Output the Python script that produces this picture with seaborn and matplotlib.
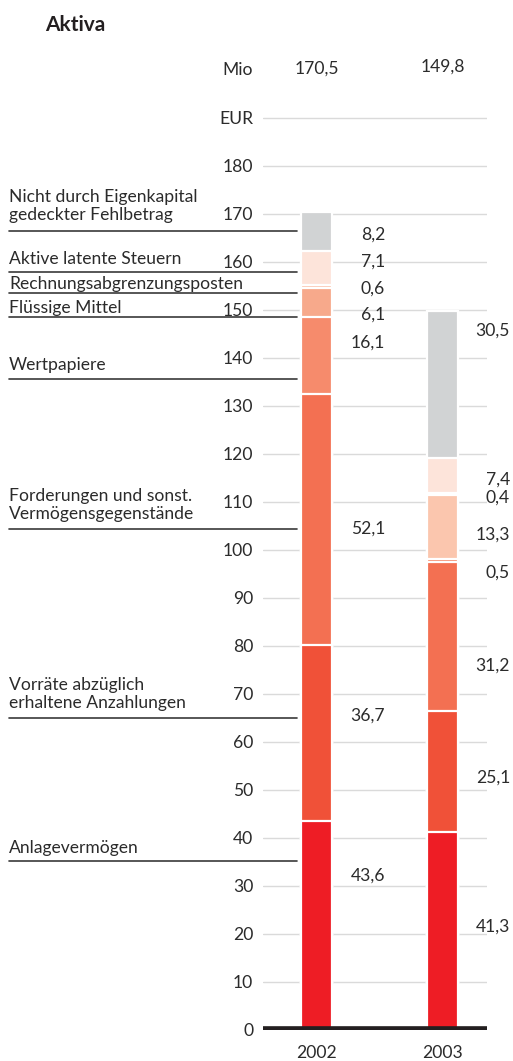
import numpy as np
import pandas as pd
import seaborn as sns
import matplotlib.pyplot as plt

# Aktiva, Mio EUR
years = ["2002", "2003"]
categories = [
    "Anlagevermögen",
    "Vorräte abzüglich\nerhaltene Anzahlungen",
    "Forderungen und sonst.\nVermögensgegenstände",
    "Wertpapiere",
    "Flüssige Mittel",
    "Rechnungsabgrenzungsposten",
    "Aktive latente Steuern",
    "Nicht durch Eigenkapital\ngedeckter Fehlbetrag",
]
values_2002 = [43.6, 36.7, 52.1, 16.1, 6.1, 0.6, 7.1, 8.2]
values_2003 = [41.3, 25.1, 31.2, 0.5, 13.3, 0.4, 7.4, 30.5]
totals = ["170,5", "149,8"]

colors_2002 = ["#ee1d25", "#f05138", "#f37052", "#f68b6c", "#f7a98b",
               "#fbc5b0", "#fde4da", "#d1d3d4"]
colors_2003 = ["#ee1d25", "#f05138", "#f37052", "#f68b6c", "#fbc6ae",
               "#fbc6ae", "#fde4da", "#d1d3d4"]

# layout: where the side labels and value labels sit (data y)
cat_label_y = [37.9, 70.0, 109.4, 138.5, 150.4, 155.4, 160.6, 171.7]
cat_line_y = [35.2, 65.0, 104.4, 135.6, 148.5, 153.5, 157.9, 166.5]
val_y_2002 = [32.1, 65.4, 104.4, 143.1, 149.0, 154.4, 160.0, 165.6]
val_y_2003 = [21.5, 52.5, 76.0, 95.2, 103.1, 111.0, 114.6, 145.8]

sns.set_style("white")
plt.rcParams["font.family"] = ["Lato", "DejaVu Sans"]
text_col = "#2b2b2b"
fs = 12.6

fig = plt.figure(figsize=(5.13, 10.61), dpi=100)
W, H = 513, 1061
ax = fig.add_axes([263 / W, 31 / H, 224 / W, 960 / H])

cum_2002 = np.cumsum(values_2002)
cum_2003 = np.cumsum(values_2003)

# stacked bars: draw cumulative tops from the highest down
for i in reversed(range(len(categories))):
    seg = pd.DataFrame({"year": years, "top": [cum_2002[i], cum_2003[i]]})
    sns.barplot(data=seg, x="year", y="top", hue="year", order=years,
                palette={"2002": colors_2002[i], "2003": colors_2003[i]},
                width=0.24, edgecolor="white", linewidth=1.6,
                saturation=1, legend=False, ax=ax)

ax.set_xlim(-0.4246, 1.353)
ax.set_ylim(0, 200)
ax.set_xlabel("")
ax.set_ylabel("")
for s in ax.spines.values():
    s.set_visible(False)

ticks = list(range(0, 200, 10))
ax.set_yticks(ticks)
ax.set_yticklabels([str(t) for t in ticks[:-1]] + ["EUR"])
ax.grid(axis="y", color="#dadada", lw=1)
ax.set_axisbelow(True)
ax.tick_params(axis="y", length=0, pad=7, labelsize=fs, labelcolor=text_col)
ax.tick_params(axis="x", length=0, pad=11, labelsize=fs, labelcolor=text_col)
ax.axhline(0, color="#231f20", lw=5.5, zorder=5)

# header row
ax.text(-0.0446, 200, "Mio", transform=ax.get_yaxis_transform(),
        ha="right", va="center", fontsize=fs, color=text_col, clip_on=False)
for j, t in enumerate(totals):
    ax.text(j, 200.3 + 0.4 * j, t, ha="center", va="center", fontsize=fs,
            color=text_col, clip_on=False)

# value labels
for i in range(len(categories)):
    ax.text(0.545, val_y_2002[i], f"{values_2002[i]:.1f}".replace(".", ","),
            transform=ax.get_yaxis_transform(), ha="right", va="center",
            fontsize=fs, color=text_col, clip_on=False)
    ax.text(1.103, val_y_2003[i], f"{values_2003[i]:.1f}".replace(".", ","),
            transform=ax.get_yaxis_transform(), ha="right", va="center",
            fontsize=fs, color=text_col, clip_on=False)

# category labels with underline
for i, cat in enumerate(categories):
    ax.text(-1.134, cat_label_y[i], cat, transform=ax.get_yaxis_transform(),
            ha="left", va="center", fontsize=fs, color=text_col,
            linespacing=1.2, clip_on=False)
    ax.plot([-1.134, 0.152], [cat_line_y[i]] * 2,
            transform=ax.get_yaxis_transform(), color="#3a3a3a", lw=1.2,
            clip_on=False)

fig.text(45 / W, 1 - 25 / H, "Aktiva", fontsize=15, fontweight="bold",
         color="#231f20", ha="left", va="center")

fig.savefig("out.png", dpi=100)
